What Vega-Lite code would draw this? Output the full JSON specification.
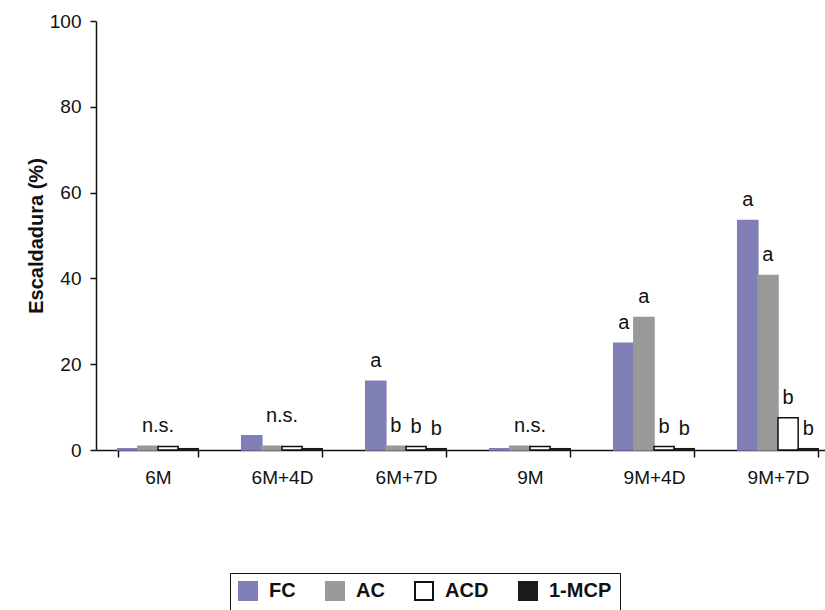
{
  "$schema": "https://vega.github.io/schema/vega-lite/v6.json",
  "autosize": "none",
  "width": 744,
  "height": 429,
  "padding": {"left": 96, "top": 21, "right": 0, "bottom": 160},
  "background": "white",
  "config": {
    "font": "Liberation Sans",
    "view": {"stroke": null},
    "axis": {"domainColor": "#111", "tickColor": "#111", "labelColor": "#111", "titleColor": "#111", "grid": false, "labelFont": "Liberation Sans", "titleFont": "Liberation Sans"}
  },
  "datasets": {
    "bars": [
      {"t": "6M", "s": "FC", "v": 0.3, "lab": ""},
      {"t": "6M", "s": "AC", "v": 0.9, "lab": ""},
      {"t": "6M", "s": "ACD", "v": 0.8, "lab": ""},
      {"t": "6M", "s": "1-MCP", "v": 0.3, "lab": ""},
      {"t": "6M+4D", "s": "FC", "v": 3.3, "lab": ""},
      {"t": "6M+4D", "s": "AC", "v": 0.9, "lab": ""},
      {"t": "6M+4D", "s": "ACD", "v": 0.8, "lab": ""},
      {"t": "6M+4D", "s": "1-MCP", "v": 0.3, "lab": ""},
      {"t": "6M+7D", "s": "FC", "v": 16, "lab": "a"},
      {"t": "6M+7D", "s": "AC", "v": 0.9, "lab": "b"},
      {"t": "6M+7D", "s": "ACD", "v": 0.8, "lab": "b"},
      {"t": "6M+7D", "s": "1-MCP", "v": 0.3, "lab": "b"},
      {"t": "9M", "s": "FC", "v": 0.3, "lab": ""},
      {"t": "9M", "s": "AC", "v": 0.9, "lab": ""},
      {"t": "9M", "s": "ACD", "v": 0.8, "lab": ""},
      {"t": "9M", "s": "1-MCP", "v": 0.3, "lab": ""},
      {"t": "9M+4D", "s": "FC", "v": 24.9, "lab": "a"},
      {"t": "9M+4D", "s": "AC", "v": 30.9, "lab": "a"},
      {"t": "9M+4D", "s": "ACD", "v": 0.8, "lab": "b"},
      {"t": "9M+4D", "s": "1-MCP", "v": 0.3, "lab": "b"},
      {"t": "9M+7D", "s": "FC", "v": 53.5, "lab": "a"},
      {"t": "9M+7D", "s": "AC", "v": 40.7, "lab": "a"},
      {"t": "9M+7D", "s": "ACD", "v": 7.5, "lab": "b"},
      {"t": "9M+7D", "s": "1-MCP", "v": 0.3, "lab": "b"}
    ],
    "groups": [
      {"t": "6M", "lab": "n.s.", "v": 0.9},
      {"t": "6M+4D", "lab": "n.s.", "v": 3.3},
      {"t": "9M", "lab": "n.s.", "v": 0.9}
    ]
  },
  "layer": [
    {
      "data": {"name": "bars"},
      "mark": {"type": "bar", "strokeWidth": 1.5},
      "encoding": {
        "x": {"field": "t", "type": "nominal", "sort": null,
              "scale": {"paddingInner": 0.35, "paddingOuter": 0.175},
              "axis": {"title": null, "labelAngle": 0, "labelFontSize": 19, "labelPadding": 11, "tickBand": "extent", "tickSize": 7, "domainWidth": 1.5, "tickWidth": 1.5}},
        "xOffset": {"field": "s", "type": "nominal", "sort": ["FC", "AC", "ACD", "1-MCP"], "scale": {"paddingInner": 0, "paddingOuter": 0}},
        "y": {"field": "v", "type": "quantitative",
              "scale": {"domain": [0, 100], "nice": false},
              "axis": {"title": "Escaldadura (%)", "titleFontSize": 20, "titleFontWeight": "bold", "titlePadding": 3, "values": [0, 20, 40, 60, 80, 100], "labelFontSize": 19, "labelPadding": 9, "tickSize": 6, "domainWidth": 1.5, "tickWidth": 1.5}},
        "fill": {"field": "s", "type": "nominal", "sort": ["FC", "AC", "ACD", "1-MCP"],
                 "scale": {"domain": ["FC", "AC", "ACD", "1-MCP"], "range": ["#7f7fb5", "#999999", "#ffffff", "#1a1a1a"]},
                 "legend": {"title": null, "orient": "none", "legendX": 134, "legendY": 552, "direction": "horizontal", "strokeColor": "#111", "padding": 8, "symbolType": "square", "symbolSize": 324, "symbolStrokeWidth": 2, "labelFontSize": 20, "labelFontWeight": "bold", "labelColor": "#111", "columnPadding": 26, "labelOffset": 11}},
        "stroke": {"field": "s", "type": "nominal", "sort": ["FC", "AC", "ACD", "1-MCP"],
                   "scale": {"domain": ["FC", "AC", "ACD", "1-MCP"], "range": ["#7f7fb5", "#999999", "#111111", "#1a1a1a"]}}
      }
    },
    {
      "data": {"name": "bars"},
      "mark": {"type": "text", "baseline": "alphabetic", "dy": -14, "fontSize": 20, "color": "#111"},
      "encoding": {
        "x": {"field": "t", "type": "nominal", "sort": null},
        "xOffset": {"field": "s", "type": "nominal", "sort": ["FC", "AC", "ACD", "1-MCP"]},
        "y": {"field": "v", "type": "quantitative"},
        "text": {"field": "lab"}
      }
    },
    {
      "data": {"name": "groups"},
      "mark": {"type": "text", "baseline": "alphabetic", "dy": -14, "fontSize": 20, "color": "#111"},
      "encoding": {
        "x": {"field": "t", "type": "nominal", "sort": null},
        "y": {"field": "v", "type": "quantitative"},
        "text": {"field": "lab"}
      }
    }
  ]
}
